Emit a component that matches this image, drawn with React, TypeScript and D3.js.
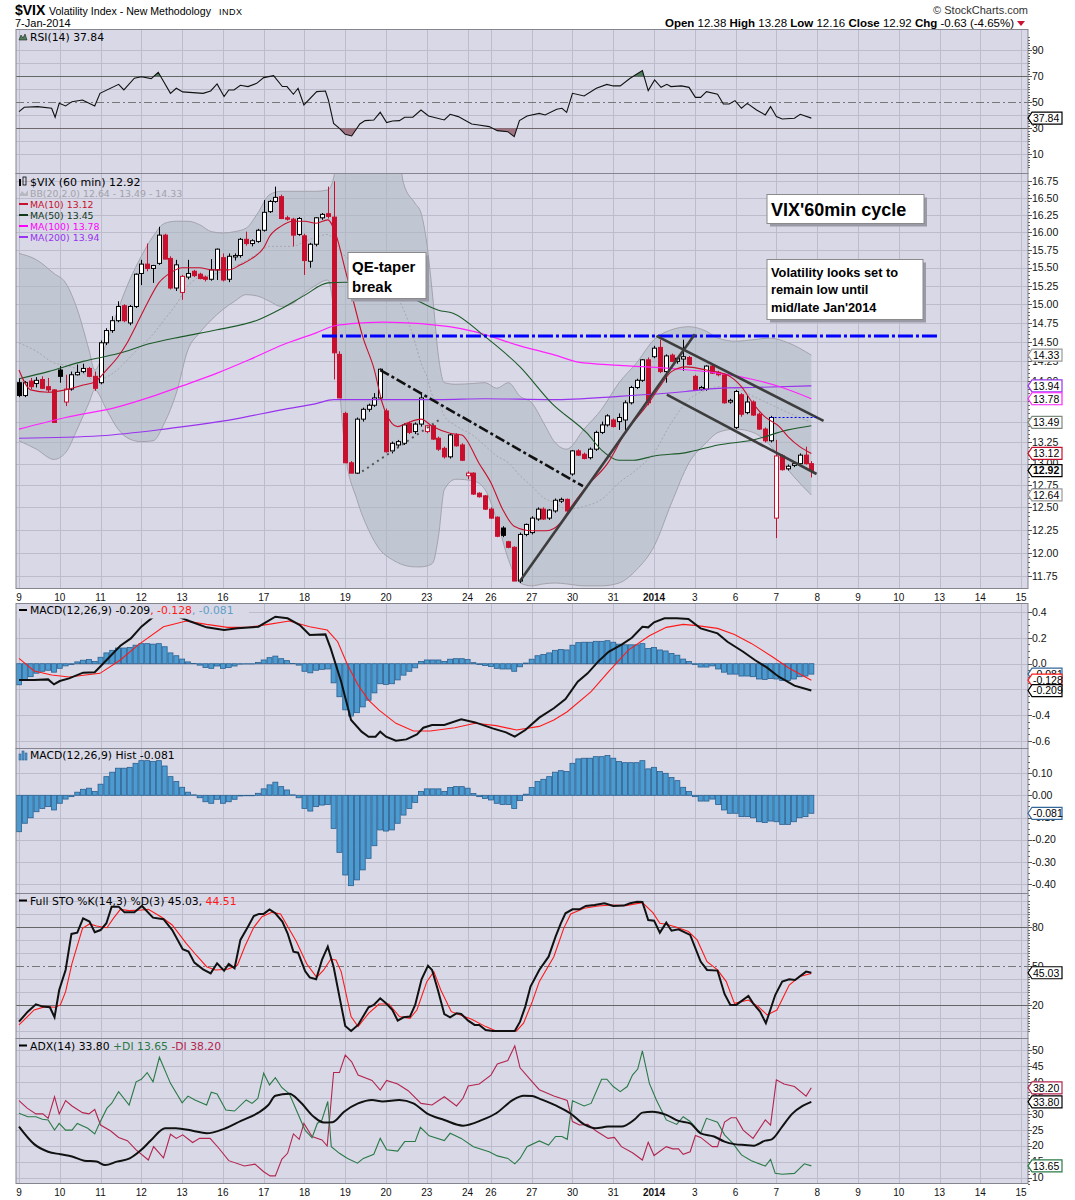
import React from 'react';
import * as d3 from 'd3';

// ---------- data ----------
const dayLabels = ['9', '10', '11', '12', '13', '16', '17', '18', '19', '20', '23', '24', '26', '27', '30', '31', '2014', '3', '6', '7', '8', '9', '10', '13', '14', '15'];
const barsPerDay = [7, 7, 7, 7, 7, 7, 7, 7, 7, 7, 7, 4, 7, 7, 7, 7, 7, 7, 7, 7, 7, 7, 7, 7, 7, 7];

// hourly candles: open, high, low, close
const candles: [number, number, number, number][] = [
  [13.98, 14.03, 13.80, 13.82], [13.82, 14.00, 13.80, 13.98], [14.00, 14.04, 13.90, 13.93], [13.97, 14.05, 13.92, 14.01],
  [14.02, 14.06, 13.90, 13.91], [13.93, 14.04, 13.86, 13.89], [13.89, 13.90, 13.49, 13.49],
  [14.14, 14.19, 13.98, 14.06], [13.74, 14.08, 13.69, 13.90], [13.90, 14.12, 13.88, 14.08], [14.08, 14.21, 14.07, 14.11],
  [14.12, 14.22, 14.10, 14.16], [14.16, 14.18, 14.05, 14.06], [14.06, 14.12, 13.88, 13.91],
  [13.98, 14.52, 13.96, 14.49], [14.49, 14.68, 14.46, 14.65], [14.65, 14.84, 14.62, 14.78], [14.78, 15.04, 14.76, 14.97],
  [14.98, 15.00, 14.76, 14.78], [14.75, 14.99, 14.72, 14.97], [14.97, 15.42, 14.95, 15.41],
  [15.42, 15.61, 15.26, 15.55], [15.55, 15.84, 15.45, 15.49], [15.49, 15.54, 15.29, 15.53], [15.56, 16.08, 15.54, 15.96],
  [15.96, 15.98, 15.62, 15.62], [15.63, 15.66, 15.20, 15.22], [15.22, 15.61, 15.18, 15.54],
  [15.16, 15.40, 15.06, 15.38], [15.37, 15.61, 15.34, 15.42], [15.45, 15.47, 15.37, 15.39], [15.41, 15.43, 15.34, 15.35],
  [15.37, 15.39, 15.31, 15.34], [15.34, 15.62, 15.32, 15.47], [15.47, 15.77, 15.33, 15.76],
  [15.64, 15.70, 15.31, 15.33], [15.34, 15.70, 15.30, 15.66], [15.65, 15.70, 15.60, 15.67], [15.67, 15.92, 15.64, 15.90],
  [15.90, 16.01, 15.81, 15.84], [15.84, 15.90, 15.80, 15.88], [15.87, 16.05, 15.85, 16.03],
  [16.03, 16.47, 16.01, 16.29], [16.30, 16.47, 16.28, 16.45], [16.45, 16.67, 16.43, 16.51], [16.52, 16.55, 16.19, 16.20],
  [16.21, 16.24, 16.17, 16.19], [16.19, 16.21, 15.80, 15.96], [15.97, 16.22, 15.95, 16.20],
  [15.95, 15.98, 15.40, 15.60], [15.59, 15.85, 15.50, 15.83], [15.83, 16.22, 15.80, 16.21], [16.21, 16.28, 16.18, 16.26],
  [16.27, 16.67, 16.20, 16.23], [16.22, 16.75, 14.02, 14.36], [14.34, 14.38, 13.79, 13.79],
  [13.60, 13.62, 13.01, 13.01], [13.01, 13.03, 12.89, 12.89], [12.89, 13.55, 12.88, 13.53], [13.53, 13.67, 13.50, 13.65],
  [13.65, 13.72, 13.62, 13.70], [13.70, 13.85, 13.68, 13.79], [13.79, 14.16, 13.77, 14.15],
  [13.63, 13.66, 13.13, 13.14], [13.15, 13.26, 13.12, 13.24], [13.22, 13.28, 13.19, 13.26], [13.24, 13.48, 13.22, 13.46],
  [13.48, 13.50, 13.35, 13.37], [13.38, 13.49, 13.35, 13.47], [13.47, 13.86, 13.44, 13.79],
  [13.38, 13.46, 13.36, 13.45], [13.45, 13.47, 13.28, 13.29], [13.30, 13.32, 13.15, 13.17], [13.18, 13.20, 13.06, 13.08],
  [13.08, 13.36, 13.06, 13.34], [13.34, 13.36, 13.20, 13.21], [13.22, 13.24, 13.03, 13.04],
  [12.86, 12.91, 12.82, 12.89], [12.89, 12.90, 12.64, 12.65], [12.66, 12.67, 12.61, 12.62], [12.63, 12.64, 12.47, 12.48],
  [12.48, 12.50, 12.37, 12.38], [12.39, 12.40, 12.17, 12.18], [12.27, 12.29, 12.17, 12.19], [12.12, 12.13, 12.05, 12.06],
  [12.06, 12.07, 11.70, 11.70], [11.70, 12.22, 11.68, 12.20], [12.20, 12.32, 12.18, 12.31],
  [12.22, 12.40, 12.20, 12.38], [12.37, 12.50, 12.35, 12.48], [12.48, 12.50, 12.36, 12.37], [12.38, 12.48, 12.36, 12.47],
  [12.46, 12.60, 12.44, 12.58], [12.57, 12.61, 12.55, 12.59], [12.59, 12.60, 12.44, 12.46],
  [12.88, 13.16, 12.86, 13.15], [13.15, 13.17, 13.09, 13.10], [13.11, 13.13, 13.05, 13.06], [13.07, 13.19, 13.05, 13.17],
  [13.17, 13.39, 13.15, 13.37], [13.37, 13.50, 13.35, 13.46], [13.46, 13.59, 13.44, 13.57],
  [13.52, 13.54, 13.43, 13.44], [13.50, 13.60, 13.40, 13.55], [13.52, 13.76, 13.40, 13.73], [13.73, 13.94, 13.71, 13.92],
  [13.92, 14.03, 13.90, 14.01], [14.01, 14.28, 13.99, 14.27], [14.27, 14.30, 13.70, 13.73],
  [14.31, 14.45, 14.29, 14.42], [14.43, 14.53, 14.10, 14.12], [14.12, 14.34, 13.98, 14.32], [14.33, 14.35, 14.24, 14.25],
  [14.25, 14.30, 14.22, 14.29], [14.28, 14.53, 14.13, 14.31], [14.30, 14.32, 14.20, 14.21],
  [14.06, 14.08, 13.88, 13.89], [13.90, 13.94, 13.88, 13.92], [13.90, 14.20, 13.88, 14.19], [14.19, 14.21, 14.09, 14.10],
  [14.11, 14.13, 14.06, 14.08], [14.08, 14.10, 13.72, 13.73], [13.74, 13.78, 13.72, 13.76],
  [13.43, 13.89, 13.41, 13.87], [13.83, 13.85, 13.56, 13.59], [13.61, 13.82, 13.59, 13.74], [13.74, 13.76, 13.57, 13.58],
  [13.59, 13.61, 13.40, 13.41], [13.41, 13.43, 13.25, 13.27], [13.27, 13.57, 13.25, 13.55],
  [12.38, 13.28, 12.16, 13.09], [13.09, 13.11, 12.92, 12.93], [12.94, 12.99, 12.92, 12.97], [12.98, 13.02, 12.96, 13.00],
  [13.00, 13.12, 12.98, 13.10], [13.10, 13.20, 12.99, 13.00], [13.00, 13.03, 12.84, 12.92],
];

// overlays: [bar index, value]
const ma10: [number, number][] = [
  [0, 14.14], [2, 13.89], [5, 13.86], [8, 13.89], [11, 13.95], [13, 13.99], [15, 14.14], [17, 14.31], [18.5, 14.48],
  [20, 14.70], [22, 15.01], [24, 15.29], [26, 15.43], [28, 15.50], [31, 15.50], [33, 15.47], [36, 15.47], [38, 15.54],
  [40, 15.63], [42, 15.78], [43, 15.94], [45, 16.09], [47, 16.16], [49, 16.16], [51, 16.13], [53, 16.18], [54.5, 15.94],
  [56, 15.47], [57.5, 15.01], [59, 14.57], [61, 14.14], [62.3, 13.74], [64, 13.48], [65, 13.44], [66.5, 13.48], [69, 13.53],
  [71, 13.44], [74, 13.36], [76, 13.34], [79, 13.00], [81, 12.78], [83, 12.48], [85, 12.29], [88, 12.24], [90.5, 12.24],
  [93, 12.33], [94.5, 12.48], [97.5, 12.74], [101, 13.00], [104, 13.36], [108, 13.72], [110, 13.93], [112, 14.12],
  [114.5, 14.18], [118, 14.14], [121.5, 14.08], [124, 13.93], [126, 13.72], [128, 13.56], [130.5, 13.44], [132, 13.32],
  [134, 13.20], [136, 13.12],
];
const ma50: [number, number][] = [
  [0, 14.03], [5, 14.12], [11, 14.25], [17, 14.35], [22.5, 14.48], [28, 14.57], [34, 14.66], [41, 14.79], [45, 14.94],
  [49, 15.12], [53, 15.29], [56, 15.30], [62, 15.22], [68, 15.06], [72, 14.92], [74.5, 14.88], [80, 14.57], [86, 14.18],
  [91.5, 13.72], [97.5, 13.36], [100, 13.16], [103, 13.04], [105.5, 13.04], [109, 13.09], [114.5, 13.13], [120, 13.22],
  [126, 13.28], [132, 13.40], [136, 13.45],
];
const ma100: [number, number][] = [
  [0, 13.41], [8, 13.55], [17, 13.68], [22.5, 13.80], [28, 13.94], [34, 14.10], [39.5, 14.27], [45.5, 14.47], [51, 14.62],
  [54, 14.71], [57, 14.74], [62.5, 14.76], [69, 14.74], [78, 14.64], [86, 14.45], [92, 14.33], [96, 14.24], [103, 14.20],
  [112, 14.16], [120, 14.10], [126, 14.02], [131, 13.92], [136, 13.78],
];
const ma200: [number, number][] = [
  [0, 13.30], [14, 13.33], [25, 13.41], [37, 13.53], [45.5, 13.65], [51, 13.72], [54, 13.77], [62.5, 13.77], [72, 13.77],
  [80, 13.78], [91.5, 13.77], [103, 13.81], [114.5, 13.87], [120, 13.91], [126, 13.92], [136, 13.94],
];
// Bollinger(20,2): [bar, upper, middle, lower]
const bollinger: [number, number, number, number][] = [
  [0, 15.70, 14.49, 13.27], [3, 15.61, 14.38, 13.17], [6, 15.42, 14.23, 13.05], [8, 15.29, 14.20, 13.13],
  [10, 14.93, 14.15, 13.41], [12, 14.40, 14.05, 13.73], [13, 14.14, 14.00, 13.89], [15, 14.49, 14.05, 13.65],
  [17, 14.93, 14.15, 13.41], [19, 15.33, 14.30, 13.29], [21, 15.66, 14.45, 13.26], [23, 15.94, 14.60, 13.27],
  [25, 16.13, 14.80, 13.49], [27, 16.16, 15.00, 13.85], [29, 16.16, 15.25, 14.40], [31, 16.11, 15.37, 14.62],
  [33, 16.01, 15.40, 14.79], [35, 15.99, 15.45, 14.93], [37, 16.01, 15.52, 15.04], [39, 16.06, 15.60, 15.13],
  [41, 16.28, 15.70, 15.11], [43, 16.55, 15.80, 15.04], [45, 16.60, 15.80, 14.97], [47, 16.60, 15.80, 15.01],
  [49, 16.60, 15.87, 15.15], [51, 16.60, 15.93, 15.26], [53, 16.62, 15.97, 15.33], [54, 16.80, 15.89, 14.93],
  [55, 17.40, 15.75, 13.93], [56, 17.90, 15.66, 13.13], [58, 18.40, 15.56, 12.59], [60, 18.50, 15.42, 12.25],
  [62, 18.50, 15.33, 12.03], [64, 18.30, 15.20, 11.93], [66, 16.72, 14.93, 11.87], [68, 16.42, 14.49, 11.85],
  [69, 16.28, 14.23, 11.85], [70, 15.84, 14.06, 11.86], [71, 15.11, 13.81, 11.89], [72, 14.31, 13.73, 12.18],
  [73, 13.98, 13.57, 12.70], [75, 13.96, 13.45, 12.82], [78, 13.97, 13.33, 12.80], [80, 13.98, 13.21, 12.70],
  [82, 13.91, 13.09, 12.36], [84, 13.98, 13.01, 11.93], [86, 13.81, 12.86, 11.68], [88, 13.73, 12.74, 11.65],
  [90, 13.49, 12.61, 11.67], [92, 13.25, 12.55, 11.68], [94, 13.17, 12.48, 11.67], [97, 13.41, 12.51, 11.65],
  [100, 13.65, 12.59, 11.65], [103, 13.98, 12.78, 11.68], [106, 14.23, 12.93, 11.82], [109, 14.53, 13.13, 12.07],
  [112, 14.66, 13.49, 12.55], [115, 14.70, 13.77, 13.01], [118, 14.64, 13.89, 13.25], [120, 14.55, 13.93, 13.37],
  [123, 14.51, 13.91, 13.41], [126, 14.53, 13.81, 13.37], [129, 14.55, 13.71, 13.21], [132, 14.49, 13.61, 12.93],
  [136, 14.33, 13.49, 12.64],
];

const rsiPoints: [number, number][] = [
  [0, 42.8], [0.9, 46.2], [3.2, 46.7], [5.6, 45.4], [6.2, 38.5], [6.9, 49.2], [8, 47.2], [9.1, 50.5], [10.9, 51.8],
  [13, 47.2], [13.9, 56.9], [17.1, 63.8], [18, 59.5], [19.8, 68.5], [21, 69.7], [22.7, 68.2], [23.9, 73.1], [26, 56.9],
  [27, 60.8], [28.1, 58], [31.6, 56.9], [32.9, 58.7], [34, 64.1], [35.2, 54.4], [36, 59.5], [36.9, 59.5], [38, 63.1],
  [39.3, 62.1], [40.8, 64.6], [42, 69], [43.7, 70.5], [45.2, 62.1], [46, 62.1], [47.1, 56.2], [47.9, 60.8], [48.9, 48],
  [51.1, 58.2], [52.6, 58.7], [53.1, 51.8], [54, 33.8], [55, 30], [56, 25.4], [57.1, 24.1], [58.5, 33.3], [59.4, 35.9],
  [60.9, 36.4], [62, 42.3], [63.1, 34.4], [64.1, 35.6], [65.3, 35.9], [66.2, 38.5], [67.6, 38.5], [69, 44.1], [70.3, 39.5],
  [73, 36.4], [74, 40.8], [75.4, 39], [77.7, 33.3], [78.9, 32.6], [80.7, 31.3], [82.1, 28.2], [83.9, 27.4], [85, 23.6],
  [85.9, 35.9], [87.2, 39.5], [89.3, 41.5], [90.3, 40.3], [92.3, 44.6], [93.2, 45.4], [94, 42.3], [95, 56.9], [97, 54.9],
  [99.1, 60.8], [100.9, 63.8], [102, 62.6], [103.2, 62.6], [104.9, 68.5], [107, 74.4], [108, 59], [109.1, 67.2],
  [110.2, 61.5], [111.2, 63.8], [111.9, 62.1], [113.7, 62.6], [115, 61.5], [116.1, 53.8], [117, 53.8], [118, 58.2],
  [119.9, 56.2], [120.9, 48.7], [121.9, 48.7], [122.9, 51.3], [124, 45.4], [125, 49.2], [126.6, 44.1], [128.1, 40.3],
  [129, 46.7], [130, 39], [131, 37.2], [133.1, 37.7], [134.1, 40.8], [136, 37.84],
];

const macdPoints: [number, number][] = [
  [0, -0.127], [2.6, -0.127], [5, -0.122], [6, -0.161], [7, -0.135], [8.6, -0.114], [11, -0.070], [13, -0.067],
  [14.5, 0.003], [17.4, 0.140], [19.2, 0.197], [21, 0.288], [23.3, 0.374], [25, 0.405], [26.9, 0.374], [29.2, 0.332],
  [32.2, 0.283], [35.2, 0.262], [37.5, 0.275], [41.1, 0.288], [44, 0.366], [46.1, 0.353], [48.2, 0.301], [49.9, 0.223],
  [52.6, 0.228], [53.5, 0.119], [55.3, -0.140], [57, -0.438], [58.8, -0.529], [60, -0.568], [61.2, -0.568], [62, -0.529],
  [63, -0.568], [64.7, -0.599], [66.5, -0.589], [68.3, -0.550], [69.4, -0.498], [70.9, -0.477], [73, -0.477],
  [75.9, -0.433], [78.3, -0.457], [81.3, -0.503], [83.6, -0.534], [85.1, -0.568], [86.9, -0.516], [89.3, -0.420],
  [91.8, -0.347], [93.8, -0.275], [95.9, -0.140], [97.6, -0.075], [99.4, 0.016], [101.2, 0.093], [103.5, 0.150],
  [105.2, 0.202], [107, 0.288], [108, 0.283], [109, 0.322], [110.8, 0.353], [112.9, 0.353], [114.9, 0.348], [117, 0.275],
  [119.9, 0.236], [121.6, 0.171], [124.3, 0.093], [126.3, 0.029], [128.4, -0.031], [130.4, -0.101], [133.1, -0.171],
  [136, -0.209],
];
const signalPoints: [number, number][] = [
  [0, 0.041], [2.6, -0.057], [5.6, -0.088], [8.6, -0.104], [13.9, -0.075], [17.4, 0.029], [20.4, 0.145], [24.8, 0.288],
  [28.7, 0.332], [32.2, 0.306], [35.8, 0.283], [39.3, 0.283], [42.8, 0.306], [46.4, 0.332], [49.9, 0.288], [52.9, 0.262],
  [54.7, 0.171], [56.4, -0.010], [58.2, -0.166], [60, -0.283], [61.8, -0.361], [64.7, -0.464], [67.7, -0.524],
  [70.6, -0.524], [74.8, -0.498], [78.3, -0.464], [81.9, -0.482], [85.4, -0.516], [89.3, -0.488], [91.8, -0.438],
  [94.1, -0.374], [98.2, -0.218], [101.2, -0.062], [104.6, 0.106], [108.2, 0.218], [111.1, 0.283], [114, 0.306],
  [116.4, 0.296], [119.9, 0.275], [122.8, 0.228], [125.7, 0.158], [129.3, 0.054], [132.2, -0.036], [136, -0.128],
];
const histValues = [
  -0.164, -0.126, -0.101, -0.074, -0.059, -0.051, -0.066, -0.036, -0.017, -0.006,
  0.014, 0.027, 0.032, 0.017, 0.050, 0.084, 0.104, 0.122, 0.122, 0.126,
  0.144, 0.156, 0.156, 0.152, 0.156, 0.132, 0.084, 0.062, 0.036, 0.014,
  0.002, -0.011, -0.029, -0.036, -0.018, -0.036, -0.029, -0.018, -0.003, -0.002,
  -0.002, 0.009, 0.029, 0.047, 0.059, 0.039, 0.024, 0.002, -0.011, -0.059,
  -0.071, -0.051, -0.044, -0.041, -0.149, -0.257, -0.359, -0.407, -0.381, -0.336,
  -0.284, -0.227, -0.156, -0.161, -0.156, -0.126, -0.089, -0.059, -0.032, 0.017,
  0.029, 0.029, 0.029, 0.017, 0.035, 0.039, 0.039, 0.032, 0.008, -0.006,
  -0.014, -0.021, -0.036, -0.041, -0.041, -0.059, -0.024, 0.005, 0.035, 0.062,
  0.072, 0.084, 0.104, 0.111, 0.107, 0.144, 0.164, 0.167, 0.167, 0.174,
  0.174, 0.179, 0.167, 0.152, 0.147, 0.147, 0.147, 0.156, 0.119, 0.126,
  0.107, 0.099, 0.080, 0.066, 0.036, 0.017, -0.006, -0.026, -0.026, -0.017,
  -0.041, -0.066, -0.081, -0.081, -0.096, -0.096, -0.101, -0.119, -0.123, -0.116,
  -0.119, -0.131, -0.131, -0.119, -0.101, -0.096, -0.081,
];

const stoK: [number, number][] = [
  [0, 7.4], [1.5, 15.1], [2.9, 20.8], [4.1, 19], [5.3, 18.5], [6.1, 10.8], [6.9, 31.8], [8, 47.2], [9, 74.9], [10, 75.9],
  [11, 86.9], [12.1, 84.4], [13, 76.2], [14, 77.9], [15, 83.1], [15.9, 95.9], [17.1, 95.9], [18.1, 91.5], [19.8, 91.5],
  [21.1, 96.4], [23, 87.4], [24.8, 86.2], [26.3, 77.9], [28.1, 63.1], [29.1, 61.3], [30.1, 52.8], [31.6, 47.7],
  [32.9, 44.6], [34, 52.3], [35.2, 46.7], [36, 51.8], [37, 48.5], [38, 70.3], [39.3, 80.5], [40.3, 88.7], [41.2, 90.3],
  [42, 90.3], [43, 93.8], [44, 90.8], [45.2, 84.4], [46.1, 75.4], [47.1, 61.3], [47.9, 60.5], [49.1, 46.4], [49.9, 41.5],
  [51, 40], [52, 54.9], [53, 65.1], [54, 49.7], [55, 26.7], [56, 4.1], [57, 0.3], [58.2, 4.9], [60, 18.5], [60.9, 20.3],
  [62, 25.4], [63, 21.5], [64.1, 16.4], [65, 8.2], [66, 10.8], [67.1, 11.3], [68, 20.3], [69.1, 40], [70.2, 50.5],
  [70.9, 47.2], [71.9, 31.8], [73, 13.3], [74, 10.8], [75.1, 13.8], [75.9, 13.3], [77.1, 8.2], [78.2, 4.9], [79, 4.9],
  [80.1, 1], [81.3, 0.3], [85.1, 0.3], [86, 7.4], [86.9, 19], [87.8, 34.4], [89.3, 47.2], [90.9, 57.4], [92.1, 72.8],
  [93, 83.1], [93.8, 90.8], [95, 93.8], [96.2, 93.8], [97.3, 96.4], [98.8, 97.2], [100.5, 98.5], [102, 96.4],
  [103.8, 96.7], [104.9, 98.5], [106.1, 99.7], [107, 99.5], [108, 85.6], [109, 85.1], [110, 75.9], [111.1, 83.6],
  [112, 77.4], [113.2, 78.5], [115.2, 74.1], [117, 53.6], [118.1, 47.2], [119.9, 46.7], [121.1, 28.7], [122.1, 20.3],
  [123.1, 20.3], [125.2, 27.2], [126, 21.5], [127.2, 15.1], [128.2, 6.2], [129.8, 27.9], [131, 38.2], [132.2, 40],
  [133.2, 39.5], [135.1, 45.9], [136, 45.03],
];
const stoD: [number, number][] = [
  [0, 4.9], [2.6, 16.4], [4.5, 19], [6.2, 18.5], [7.1, 20.3], [8, 30.5], [9.1, 52.3], [10.9, 79.2], [12.1, 82.6],
  [13.3, 81], [15.1, 79.7], [16.2, 86.9], [17.4, 93.8], [18.9, 92.8], [21, 93.3], [22.2, 93.8], [24.5, 87.7], [26.3, 81.8],
  [28.7, 67.7], [30.4, 58.7], [32.2, 49.7], [33.7, 47.2], [35.8, 47.7], [37.5, 51], [38.8, 65.6], [40.3, 80], [41.7, 88.2],
  [43.4, 91.5], [44.9, 90.3], [45.8, 83.1], [47.6, 69], [49.4, 51.8], [51.1, 41.5], [52.3, 47.2], [53.5, 55.4],
  [54.4, 54.9], [55.3, 45.9], [57, 11.3], [58.2, 3.6], [60, 13.8], [61.8, 21], [63.5, 21], [65.3, 11.3], [67.1, 10],
  [68.3, 16.4], [70, 38.2], [71.2, 45.9], [72.4, 31.8], [74.2, 15.1], [76.2, 11.8], [77.7, 9.2], [80.1, 3.6], [81.9, 0.3],
  [85.4, 0.3], [86.6, 6.2], [88.1, 22.8], [89.3, 38.2], [91.8, 57.4], [93.5, 79.2], [94.7, 90.3], [97, 94.6], [99.4, 96.4],
  [101.7, 97.2], [104.1, 96.7], [107, 99], [108.8, 91.3], [110, 83.1], [111.1, 82.3], [112.9, 80], [114.9, 76.7],
  [116.4, 70.3], [118.1, 53.6], [119.9, 47.2], [121.4, 38.2], [122.8, 21.5], [125.2, 24.1], [126.9, 19], [128.4, 12.6],
  [130.1, 16.4], [132.2, 35.6], [134, 42.1], [136, 44.51],
];

const adxPoints: [number, number][] = [
  [0, 26], [2.6, 20.5], [5, 18.1], [7.1, 17.3], [9.1, 16.6], [11.2, 15.3], [13.3, 15], [14.8, 13.9], [16.8, 15], [19, 16],
  [21, 18.7], [22.7, 21.8], [25.1, 25.5], [26.9, 25.5], [29.8, 24.7], [32.2, 23.9], [35.2, 25.3], [38.1, 27.8],
  [41.1, 30.4], [42.8, 32.8], [44, 35.7], [46.4, 36.3], [48.2, 33.9], [50.6, 29.1], [52.3, 27.3], [53.8, 27.4],
  [55.8, 30.7], [58.2, 33.3], [60.6, 34.4], [62.4, 33.9], [65.3, 34.4], [67.7, 33.3], [70, 30.2], [73, 28.1], [76.2, 26.3],
  [79.5, 28.1], [81.9, 30.2], [84.8, 34.4], [86.6, 35.7], [88.1, 35.6], [89.3, 34.8], [92.3, 32.5], [94.6, 30.2],
  [97, 26.7], [99, 25.5], [101.1, 26], [103.4, 26], [105.7, 28.3], [107, 30.4], [108.7, 30.7], [111.1, 29.7],
  [113.2, 27.8], [115.2, 27], [117, 23.9], [119.3, 22.9], [121.1, 21.3], [122.8, 20.5], [124.6, 20.2], [126, 20],
  [128.1, 21.6], [129.2, 22], [131, 26], [132.7, 30], [134.5, 32.5], [136, 33.8],
];
const plusDI: [number, number][] = [
  [0, 30.2], [1.5, 29.1], [2.9, 29.1], [4, 28.3], [5, 28.1], [6.1, 24.9], [6.9, 27], [8, 24.9], [9.1, 24.9], [10, 27],
  [11.8, 25.5], [13, 23.7], [13.9, 27.4], [15.1, 31.8], [15.9, 33.3], [17.1, 37], [18.9, 32.8], [20.1, 40.1], [21, 40.9],
  [22, 43], [23, 40.1], [24.1, 47.8], [26, 39.6], [28, 33.5], [29, 35.6], [30.2, 34.4], [32.2, 32.8], [33, 36.8],
  [34, 36.3], [35.5, 31.2], [37, 30.9], [39, 34.4], [40, 33.3], [41, 34.9], [42, 42.8], [43, 39.1], [44, 41.4],
  [45.1, 38.3], [46.4, 36.3], [47.6, 31.2], [49.1, 24.9], [50.3, 22.5], [51.2, 27], [52, 28.1], [53, 33.9], [53.6, 19.7],
  [55, 17.6], [56.4, 16], [58.1, 14.5], [59.1, 16], [60.9, 17.3], [62, 22.3], [63.1, 18.7], [65, 18.3], [66.2, 21.3],
  [68, 21.3], [68.9, 25.8], [70.4, 23.1], [73, 21.6], [74, 23.9], [75.9, 22.3], [78, 19.7], [80.7, 18.1], [82.1, 16.8],
  [83.9, 16], [85.1, 14.3], [86, 16], [87.2, 19.7], [89.3, 21.5], [90.9, 20.2], [92.1, 22.9], [93.2, 22.9], [94.1, 22],
  [95, 34.1], [97, 32.5], [98.2, 33.3], [100, 40.9], [100.9, 40.9], [102, 38.6], [103.2, 37], [104.4, 38.6],
  [105.3, 42.2], [106.2, 44.1], [107, 49.8], [108.2, 39.6], [109.4, 34.4], [111.1, 28.1], [112.9, 26.7], [114, 29.1],
  [115.2, 27.6], [117, 23.9], [118, 28.6], [119.9, 27.4], [121.1, 23.4], [122.5, 20.8], [124, 17.1], [125.7, 15.3],
  [128.1, 13.6], [129, 15.7], [129.8, 11.3], [131, 11], [133.1, 11.3], [134.8, 14.3], [136, 13.65],
];
const minusDI: [number, number][] = [
  [0, 34.2], [1.4, 31.8], [2.9, 30], [4.1, 30], [5, 28.6], [6.1, 35.4], [6.9, 30], [8, 34.2], [9.1, 32.5], [10.9, 30.4],
  [12, 30], [13, 31.4], [14, 26.5], [15.7, 24.7], [17.1, 22.6], [18.6, 21.6], [20.1, 18.7], [22.2, 15.5], [23.1, 19.7],
  [24.8, 16.2], [26, 23.6], [27, 22.3], [28.1, 23.4], [29.8, 21], [31, 22.3], [32.8, 22.3], [34.3, 19.2], [36, 15.3],
  [38.7, 13.6], [40.5, 14.2], [42, 11.8], [43.1, 10.5], [44, 10.5], [45.1, 15.7], [46.1, 17.6], [47.1, 23.7], [48.1, 22],
  [48.9, 27], [50.3, 22.9], [52, 21.8], [52.9, 19.9], [54, 43], [55, 43], [56, 48.5], [57.1, 46.4], [58.2, 42.2],
  [60.6, 40.5], [62, 37.5], [63.1, 40.5], [65, 39.4], [66.8, 37.3], [69, 33.3], [70.9, 32.8], [73, 35.4], [75.1, 32.5],
  [76.2, 34.9], [77.1, 38.8], [79, 39.4], [81, 42.2], [82.1, 45.7], [83.9, 46.8], [85.1, 51.4], [86, 44.5], [88.1, 40.1],
  [89.3, 37.6], [91.8, 35.6], [94.1, 34.2], [95, 27.6], [96.2, 26.5], [97.6, 26.7], [99, 24.7], [101.1, 22.3],
  [102.2, 22.6], [103.4, 19.7], [105.3, 17.8], [107, 15.5], [108, 21.1], [109, 16.9], [111.1, 19.7], [112.2, 19],
  [113.2, 19], [114, 17.3], [115.2, 18.1], [116.1, 23.2], [117, 22.6], [119, 19.7], [119.9, 19.7], [121.1, 27.4],
  [122.2, 28.8], [123.1, 28.8], [124.3, 24.9], [126, 22.3], [128.1, 28.1], [129, 26.5], [130, 40.7], [131.3, 39.4],
  [133.1, 38.6], [135.1, 35.6], [136, 38.2],
];

// hand-drawn annotations on the price panel: [bar, price] end points
const trendLines = [
  { from: [52, 14.58], to: [158, 14.58], color: '#0000ff', width: 3, dash: '15,3,3,3' },
  { from: [62, 14.14], to: [96.8, 12.74], color: '#111111', width: 2.6, dash: '10,3,3,3' },
  { from: [58.9, 12.91], to: [72.3, 13.53], color: '#555555', width: 2, dash: '2,4' },
  { from: [86, 11.70], to: [116, 14.60], color: '#3d3d3d', width: 2.6, dash: '' },
  { from: [109.4, 14.58], to: [138.1, 13.51], color: '#3d3d3d', width: 2.6, dash: '' },
  { from: [111.2, 13.83], to: [136.9, 12.88], color: '#3d3d3d', width: 2.6, dash: '' },
  { from: [129, 13.55], to: [137, 13.55], color: '#0000ff', width: 1, dash: '2,2' },
];

const notes = [
  { x: 348, y: 252.5, w: 78, h: 46, size: 15, lines: ['QE-taper', 'break'], base: [272, 292] },
  { x: 767, y: 194.5, w: 157, h: 29, size: 18, lines: ["VIX'60min cycle"], base: [215.5] },
  { x: 767, y: 259.5, w: 156, h: 60, size: 12.8, lines: ['Volatility looks set to', 'remain low until', "mid/late Jan'2014"], base: [276.5, 294, 311.5] },
];

// ---------- layout ----------
const PL = 16;
const PR = 1028;
const BAR = 5.826;
const BG = '#d8d8e6';
const GRID = '#bcbccd';
const BORDER = '#85858f';
const SANS = "'Liberation Sans', Arial, sans-serif";
const VERD = "'DejaVu Sans', Verdana, sans-serif";

const x = d3.scaleLinear().domain([0, 172]).range([19, 19 + 172 * BAR]);
const yRsi = d3.scaleLinear().domain([10, 90]).range([154.3, 50.3]);
const yPrice = d3.scaleLog().domain([11.75, 16.75]).range([576.3, 181.3]);
const yMacd = d3.scaleLinear().domain([-0.6, 0.4]).range([740.8, 612.3]);
const yHist = d3.scaleLinear().domain([-0.4, 0.1]).range([884.1, 773.1]);
const ySto = d3.scaleLinear().domain([20, 80]).range([1005.3, 927.3]);
const yAdx = d3.scaleLinear().domain([10, 50]).range([1177.5, 1050.3]);

const P = {
  rsi: [29.5, 173.5],
  main: [173.5, 588.5],
  macd: [603.5, 748.5],
  hist: [748.5, 893.5],
  sto: [893.5, 1038.5],
  adx: [1038.5, 1183.5],
};

const dayStarts: number[] = [];
barsPerDay.forEach((n, k) => dayStarts.push(k === 0 ? 0 : dayStarts[k - 1] + barsPerDay[k - 1]));

const pathOf = (data: [number, number][], y: (v: number) => number, curve: d3.CurveFactory = d3.curveLinear) =>
  d3.line<[number, number]>().x(d => x(d[0])).y(d => y(d[1])).curve(curve)(data) ?? '';

function PanelBg({ top, bottom, hVals, y }: { top: number; bottom: number; hVals: number[]; y: (v: number) => number }) {
  return (
    <g>
      <rect x={PL} y={top} width={PR - PL} height={bottom - top} fill={BG} />
      {dayStarts.map((s, k) => (
        <line key={'v' + k} x1={Math.round(x(s)) + 0.5} x2={Math.round(x(s)) + 0.5} y1={top} y2={bottom} stroke={GRID} />
      ))}
      {hVals.map(v => (
        <line key={'h' + v} x1={PL} x2={PR} y1={Math.round(y(v)) + 0.5} y2={Math.round(y(v)) + 0.5} stroke={GRID} />
      ))}
    </g>
  );
}

function PanelFrame({ top, bottom }: { top: number; bottom: number }) {
  return <rect x={PL} y={top} width={PR - PL} height={bottom - top} fill="none" stroke={BORDER} />;
}

function AxisLabels({ vals, y, fmt, minor }: { vals: number[]; y: (v: number) => number; fmt: (v: number) => string; minor?: number[] }) {
  return (
    <g fontFamily={SANS} fontSize={10.5} fill="#111">
      {(minor ?? []).map((v, k) => (
        <line key={'m' + k} x1={PR} x2={PR + 2} y1={Math.round(y(v)) + 0.5} y2={Math.round(y(v)) + 0.5} stroke="#666" />
      ))}
      {vals.map(v => (
        <g key={v}>
          <line x1={PR} x2={PR + 4} y1={Math.round(y(v)) + 0.5} y2={Math.round(y(v)) + 0.5} stroke="#555" />
          <text x={PR + 4} y={y(v) + 3.7}>{fmt(v)}</text>
        </g>
      ))}
    </g>
  );
}

function Tag({ y, text, color, bold }: { y: number; text: string; color: string; bold?: boolean }) {
  const pts = `${PR},${y} ${PR + 4},${y - 6} ${PR + 34},${y - 6} ${PR + 34},${y + 6} ${PR + 4},${y + 6}`;
  return (
    <g>
      <polygon points={pts} fill="#fff" stroke={color} strokeWidth={1.2} />
      <text x={PR + 5} y={y + 3.8} fontFamily={SANS} fontSize={10.5} fontWeight={bold ? 'bold' : 'normal'} fill="#000">{text}</text>
    </g>
  );
}

function DayAxis({ y }: { y: number }) {
  return (
    <g fontFamily={SANS} fontSize={10} fill="#111" textAnchor="middle">
      {dayStarts.map((s, k) => (
        <text key={k} x={x(s)} y={y} fontWeight={dayLabels[k] === '2014' ? 'bold' : 'normal'}>{dayLabels[k]}</text>
      ))}
    </g>
  );
}

export default function App() {
  const macdLegendW = 232;
  const bbArea = d3.area<[number, number, number, number]>()
    .x(d => x(d[0])).y0(d => yPrice(d[3])).y1(d => yPrice(d[1])).curve(d3.curveMonotoneX);
  const bbUpper = pathOf(bollinger.map(d => [d[0], d[1]] as [number, number]), yPrice, d3.curveMonotoneX);
  const bbLower = pathOf(bollinger.map(d => [d[0], d[3]] as [number, number]), yPrice, d3.curveMonotoneX);
  const bbMid = pathOf(bollinger.map(d => [d[0], d[2]] as [number, number]), yPrice, d3.curveMonotoneX);
  const rsiArea = (base: number) => d3.area<[number, number]>().x(d => x(d[0])).y0(yRsi(base)).y1(d => yRsi(d[1]))(rsiPoints) ?? '';

  const priceTicks = d3.range(0, 21).map(k => 11.75 + k * 0.25);
  const priceMinor = d3.range(0, 101).map(k => 11.75 + k * 0.05);

  return (
    <div>
      <style>{'body{margin:0;background:#fff}'}</style>
      <svg width={1075} height={1200} viewBox="0 0 1075 1200" style={{ display: 'block' }}>
        <defs>
          <clipPath id="clipMain"><rect x={PL} y={P.main[0]} width={PR - PL} height={P.main[1] - P.main[0]} /></clipPath>
          <clipPath id="clipRsi"><rect x={PL} y={P.rsi[0]} width={PR - PL} height={P.rsi[1] - P.rsi[0]} /></clipPath>
          <clipPath id="clipRsiHi"><rect x={PL} y={P.rsi[0]} width={PR - PL} height={yRsi(70) - P.rsi[0]} /></clipPath>
          <clipPath id="clipRsiLo"><rect x={PL} y={yRsi(30)} width={PR - PL} height={P.rsi[1] - yRsi(30)} /></clipPath>
          <clipPath id="clipSto"><rect x={PL} y={P.sto[0]} width={PR - PL} height={P.sto[1] - P.sto[0]} /></clipPath>
        </defs>
        <rect width={1075} height={1200} fill="#fff" />

        {/* header */}
        <text x={15} y={15} fontFamily={SANS} fontSize={14} fontWeight="bold">$VIX</text>
        <text x={49} y={15} fontFamily={SANS} fontSize={10.6}>Volatility Index - New Methodology</text>
        <text x={219} y={15} fontFamily={SANS} fontSize={9} letterSpacing={0.5}>INDX</text>
        <text x={15} y={27} fontFamily={SANS} fontSize={11}>7-Jan-2014</text>
        <text x={PR} y={14} fontFamily={SANS} fontSize={11} textAnchor="end" fill="#333">© StockCharts.com</text>
        <text x={1014} y={27} fontFamily={SANS} fontSize={11.5} textAnchor="end">
          <tspan fontWeight="bold">Open</tspan> 12.38 <tspan fontWeight="bold"> High</tspan> 13.28 <tspan fontWeight="bold"> Low</tspan> 12.16 <tspan fontWeight="bold"> Close</tspan> 12.92 <tspan fontWeight="bold"> Chg</tspan> -0.63 (-4.65%)
        </text>
        <polygon points="1017,21 1025,21 1021,26" fill="#cc1133" />

        {/* RSI panel */}
        <PanelBg top={P.rsi[0]} bottom={P.rsi[1]} hVals={[10, 20, 40, 60, 80, 90]} y={yRsi} />
        <line x1={PL} x2={PR} y1={Math.round(yRsi(70)) + 0.5} y2={Math.round(yRsi(70)) + 0.5} stroke="#666" />
        <line x1={PL} x2={PR} y1={Math.round(yRsi(30)) + 0.5} y2={Math.round(yRsi(30)) + 0.5} stroke="#666" />
        <line x1={PL} x2={PR} y1={Math.round(yRsi(50)) + 0.5} y2={Math.round(yRsi(50)) + 0.5} stroke="#777" strokeDasharray="8,3,2,3" />
        <path d={rsiArea(70)} fill="#4f7f5f" clipPath="url(#clipRsiHi)" />
        <path d={rsiArea(30)} fill="#a07482" clipPath="url(#clipRsiLo)" />
        <path d={pathOf(rsiPoints, yRsi)} fill="none" stroke="#111" strokeWidth={1.1} clipPath="url(#clipRsi)" />
        <g>
          <path d="M19,40 L21,35 L23,38 L25,34 L27,40 Z" fill="#4f7f5f" stroke="#222" strokeWidth={0.6} />
          <text x={30} y={40.5} fontFamily={VERD} fontSize={10.8}>RSI(14) 37.84</text>
        </g>
        <PanelFrame top={P.rsi[0]} bottom={P.rsi[1]} />
        <AxisLabels vals={[90, 70, 50, 30, 10]} y={yRsi} fmt={v => String(v)} minor={d3.range(0, 51).map(k => k * 2)} />
        <Tag y={yRsi(37.84)} text="37.84" color="#000" />

        {/* price panel */}
        <PanelBg top={P.main[0]} bottom={P.main[1]} hVals={priceTicks} y={yPrice} />
        <g clipPath="url(#clipMain)">
          <path d={bbArea(bollinger) ?? ''} fill="#a9b6be" fillOpacity={0.5} />
          <path d={bbUpper} fill="none" stroke="#a3a3ad" />
          <path d={bbLower} fill="none" stroke="#a3a3ad" />
          <path d={bbMid} fill="none" stroke="#a6a6ae" strokeDasharray="2,2" />
          {candles.map((c, i) => {
            const [o, h, l, cl] = c;
            const prev = i > 0 ? candles[i - 1][3] : cl;
            const color = cl < prev ? '#c8102e' : '#000';
            const up = cl > o;
            const cx = Math.round(x(i)) + 0.5;
            const yTop = yPrice(Math.max(o, cl));
            const yBot = yPrice(Math.min(o, cl));
            return (
              <g key={i}>
                <line x1={cx} x2={cx} y1={yPrice(h)} y2={yPrice(l)} stroke={color} />
                <rect x={cx - 2} y={yTop} width={4} height={Math.max(1, yBot - yTop)} fill={up ? '#fff' : color} stroke={color} />
              </g>
            );
          })}
          <path d={pathOf(ma200, yPrice, d3.curveMonotoneX)} fill="none" stroke="#9933ee" strokeWidth={1.2} />
          <path d={pathOf(ma100, yPrice, d3.curveMonotoneX)} fill="none" stroke="#ff22ff" strokeWidth={1.2} />
          <path d={pathOf(ma50, yPrice, d3.curveMonotoneX)} fill="none" stroke="#1d5a2a" strokeWidth={1.1} />
          <path d={pathOf(ma10, yPrice, d3.curveMonotoneX)} fill="none" stroke="#c8102e" strokeWidth={1.1} />
          {trendLines.map((t, k) => (
            <line key={k} x1={x(t.from[0])} y1={yPrice(t.from[1])} x2={x(t.to[0])} y2={yPrice(t.to[1])}
              stroke={t.color} strokeWidth={t.width} strokeDasharray={t.dash || undefined} />
          ))}
          {notes.map((n, k) => (
            <g key={k}>
              <rect x={n.x + 3} y={n.y + 3} width={n.w} height={n.h} fill="#9a9aa6" />
              <rect x={n.x} y={n.y} width={n.w} height={n.h} fill="#fff" stroke="#8a8a8a" />
              {n.lines.map((s, j) => (
                <text key={j} x={n.x + 4} y={n.base[j]} fontFamily={SANS} fontSize={n.size} fontWeight="bold">{s}</text>
              ))}
            </g>
          ))}
        </g>
        <g fontFamily={VERD}>
          <rect x={19} y={179} width={2} height={7} fill="#000" />
          <rect x={23} y={177} width={3} height={8} fill="none" stroke="#000" strokeWidth={0.8} />
          <text x={30} y={186} fontSize={11}>$VIX (60 min) 12.92</text>
          <path d="M19,196 L22,191 L25,194 L28,190 L28,196 Z" fill="#b8b8c0" />
          <text x={30} y={196.8} fontSize={9.4} fill="#a2a2aa">BB(20,2.0) 12.64 - 13.49 - 14.33</text>
          {[
            { t: 'MA(10) 13.12', c: '#c8102e' },
            { t: 'MA(50) 13.45', c: '#143a1e' },
            { t: 'MA(100) 13.78', c: '#ff00ff' },
            { t: 'MA(200) 13.94', c: '#9933ee' },
          ].map((m, k) => (
            <g key={k}>
              <line x1={19} x2={28} y1={204 + k * 11} y2={204 + k * 11} stroke={m.c} strokeWidth={2} />
              <text x={30} y={207.6 + k * 11} fontSize={9.4} fill={m.c}>{m.t}</text>
            </g>
          ))}
        </g>
        <PanelFrame top={P.main[0]} bottom={P.main[1]} />
        <AxisLabels vals={priceTicks} y={yPrice} fmt={v => v.toFixed(2)} minor={priceMinor} />
        <Tag y={yPrice(14.33)} text="14.33" color="#999" />
        <Tag y={yPrice(13.94)} text="13.94" color="#9933ee" />
        <Tag y={yPrice(13.78)} text="13.78" color="#ff22ff" />
        <Tag y={yPrice(13.49)} text="13.49" color="#7d8a7d" />
        <Tag y={yPrice(13.12)} text="13.12" color="#c8102e" />
        <Tag y={yPrice(12.92)} text="12.92" color="#000" bold />
        <Tag y={yPrice(12.64)} text="12.64" color="#999" />
        <DayAxis y={600.5} />

        {/* MACD panel */}
        <PanelBg top={P.macd[0]} bottom={P.macd[1]} hVals={[0.4, 0.2, 0, -0.2, -0.4, -0.6]} y={yMacd} />
        {histValues.map((v, i) => (
          <rect key={i} x={x(i) - 2.5} width={5} y={Math.min(yMacd(v), yMacd(0))} height={Math.abs(yMacd(v) - yMacd(0))}
            fill="#4b9ad0" stroke="#2b5f8f" strokeWidth={0.8} />
        ))}
        <path d={pathOf(signalPoints, yMacd)} fill="none" stroke="#ff1a1a" strokeWidth={1.1} />
        <path d={pathOf(macdPoints, yMacd)} fill="none" stroke="#111" strokeWidth={2} />
        <rect x={PL + 1} y={P.macd[0] + 1} width={macdLegendW} height={14} fill={BG} />
        <line x1={19} x2={27} y1={610} y2={610} stroke="#000" strokeWidth={2} />
        <text x={30} y={614} fontFamily={VERD} fontSize={10.8}>
          MACD(12,26,9) -0.209<tspan fill="#ff1a1a">, -0.128</tspan><tspan fill="#5f9fc6">, -0.081</tspan>
        </text>
        <PanelFrame top={P.macd[0]} bottom={P.macd[1]} />
        <AxisLabels vals={[0.4, 0.2, 0, -0.2, -0.4, -0.6]} y={yMacd} fmt={v => v.toFixed(1)} minor={d3.range(0, 21).map(k => -0.6 + k * 0.05)} />
        <Tag y={yMacd(-0.081)} text="-0.081" color="#336699" />
        <Tag y={yMacd(-0.128)} text="-0.128" color="#ff1a1a" />
        <Tag y={yMacd(-0.209)} text="-0.209" color="#000" />

        {/* MACD histogram panel */}
        <PanelBg top={P.hist[0]} bottom={P.hist[1]} hVals={[0.1, 0, -0.1, -0.2, -0.3, -0.4]} y={yHist} />
        {histValues.map((v, i) => (
          <rect key={i} x={x(i) - 2.5} width={5} y={Math.min(yHist(v), yHist(0))} height={Math.abs(yHist(v) - yHist(0))}
            fill="#4b9ad0" stroke="#2b5f8f" strokeWidth={0.8} />
        ))}
        <g fill="#4b9ad0" stroke="#2b5f8f" strokeWidth={0.6}>
          <rect x={19} y={754} width={2} height={6} />
          <rect x={22} y={751} width={2} height={9} />
          <rect x={25} y={753} width={2} height={7} />
        </g>
        <text x={30} y={759} fontFamily={VERD} fontSize={10.8}>MACD(12,26,9) Hist -0.081</text>
        <PanelFrame top={P.hist[0]} bottom={P.hist[1]} />
        <AxisLabels vals={[0.1, 0, -0.1, -0.2, -0.3, -0.4]} y={yHist} fmt={v => v.toFixed(2)} minor={d3.range(0, 26).map(k => -0.45 + k * 0.025)} />
        <Tag y={yHist(-0.081)} text="-0.081" color="#336699" />

        {/* Full stochastics panel */}
        <PanelBg top={P.sto[0]} bottom={P.sto[1]} hVals={[0, 10, 30, 40, 60, 70, 90, 100]} y={ySto} />
        <line x1={PL} x2={PR} y1={Math.round(ySto(80)) + 0.5} y2={Math.round(ySto(80)) + 0.5} stroke="#666" />
        <line x1={PL} x2={PR} y1={Math.round(ySto(20)) + 0.5} y2={Math.round(ySto(20)) + 0.5} stroke="#666" />
        <line x1={PL} x2={PR} y1={Math.round(ySto(50)) + 0.5} y2={Math.round(ySto(50)) + 0.5} stroke="#777" strokeDasharray="8,3,2,3" />
        <g clipPath="url(#clipSto)">
          <path d={pathOf(stoD, ySto)} fill="none" stroke="#ff1a1a" strokeWidth={1.1} />
          <path d={pathOf(stoK, ySto)} fill="none" stroke="#111" strokeWidth={2} />
        </g>
        <line x1={19} x2={27} y1={900.5} y2={900.5} stroke="#000" strokeWidth={2} />
        <text x={30} y={904.5} fontFamily={VERD} fontSize={10.8}>
          Full STO %K(14,3) %D(3) 45.03, <tspan fill="#ff1a1a">44.51</tspan>
        </text>
        <PanelFrame top={P.sto[0]} bottom={P.sto[1]} />
        <AxisLabels vals={[80, 50, 20]} y={ySto} fmt={v => String(v)} minor={d3.range(0, 51).map(k => k * 2)} />
        <Tag y={ySto(45.03)} text="45.03" color="#000" />

        {/* ADX panel */}
        <PanelBg top={P.adx[0]} bottom={P.adx[1]} hVals={[10, 15, 20, 25, 30, 35, 40, 45, 50]} y={yAdx} />
        <path d={pathOf(minusDI, yAdx)} fill="none" stroke="#b3264f" strokeWidth={1.1} />
        <path d={pathOf(plusDI, yAdx)} fill="none" stroke="#2a7a47" strokeWidth={1.1} />
        <path d={pathOf(adxPoints, yAdx, d3.curveMonotoneX)} fill="none" stroke="#111" strokeWidth={2} />
        <line x1={19} x2={27} y1={1045.5} y2={1045.5} stroke="#000" strokeWidth={2} />
        <text x={30} y={1049.5} fontFamily={VERD} fontSize={10.8}>
          ADX(14) 33.80 <tspan fill="#2a7a47">+DI 13.65</tspan> <tspan fill="#b3264f">-DI 38.20</tspan>
        </text>
        <PanelFrame top={P.adx[0]} bottom={P.adx[1]} />
        <AxisLabels vals={[50, 45, 40, 35, 30, 25, 20, 15, 10]} y={yAdx} fmt={v => String(v)} minor={d3.range(0, 45).map(k => 8 + k)} />
        <Tag y={yAdx(38.2)} text="38.20" color="#b3264f" />
        <Tag y={yAdx(33.8)} text="33.80" color="#000" />
        <Tag y={yAdx(13.65)} text="13.65" color="#2a7a47" />
        <DayAxis y={1195.5} />
      </svg>
    </div>
  );
}
